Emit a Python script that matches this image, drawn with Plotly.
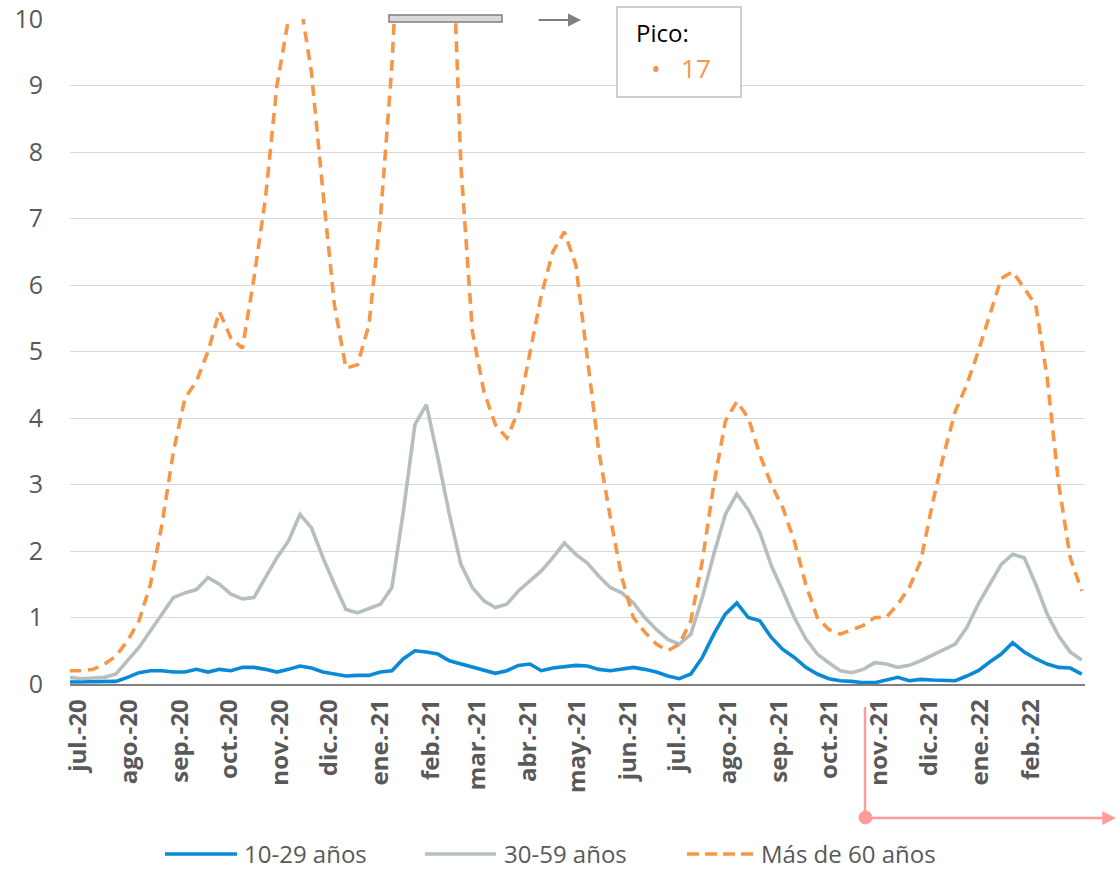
import plotly.graph_objects as go
import pandas as pd

# ---- data (weekly samples) ----
start_date = "2020-06-26"
n_points = 89

joven = [0.03, 0.03, 0.03, 0.03, 0.04, 0.10, 0.17, 0.20, 0.20, 0.18,
         0.18, 0.22, 0.18, 0.22, 0.20, 0.25, 0.25, 0.22, 0.18, 0.22,
         0.27, 0.24, 0.18, 0.15, 0.12, 0.13, 0.13, 0.18, 0.20, 0.38,
         0.50, 0.48, 0.45, 0.35, 0.30, 0.25, 0.20, 0.16, 0.20, 0.28,
         0.30, 0.20, 0.24, 0.26, 0.28, 0.27, 0.22, 0.20, 0.22, 0.25,
         0.22, 0.18, 0.12, 0.08, 0.15, 0.40, 0.75, 1.05, 1.22, 1.00,
         0.95, 0.70, 0.52, 0.40, 0.25, 0.15, 0.08, 0.05, 0.04, 0.02,
         0.02, 0.06, 0.10, 0.05, 0.07, 0.06, 0.05, 0.05, 0.12, 0.20,
         0.33, 0.45, 0.62, 0.48, 0.38, 0.30, 0.25, 0.24, 0.15]

adulto = [0.10, 0.08, 0.09, 0.10, 0.15, 0.35, 0.55, 0.80, 1.05, 1.30,
          1.37, 1.42, 1.60, 1.50, 1.35, 1.28, 1.30, 1.60, 1.90, 2.15,
          2.55, 2.35, 1.90, 1.50, 1.12, 1.07, 1.13, 1.20, 1.45, 2.60,
          3.90, 4.20, 3.40, 2.55, 1.80, 1.45, 1.25, 1.15, 1.20, 1.40,
          1.55, 1.70, 1.90, 2.12, 1.95, 1.82, 1.62, 1.45, 1.37, 1.22,
          1.00, 0.82, 0.67, 0.60, 0.75, 1.30, 1.95, 2.55, 2.86, 2.62,
          2.28, 1.78, 1.40, 1.00, 0.68, 0.45, 0.32, 0.20, 0.17, 0.22,
          0.32, 0.30, 0.25, 0.28, 0.35, 0.43, 0.52, 0.60, 0.85, 1.20,
          1.50, 1.80, 1.95, 1.90, 1.50, 1.05, 0.72, 0.48, 0.36]

mayor = [0.20, 0.20, 0.22, 0.30, 0.42, 0.65, 0.95, 1.50, 2.40, 3.50,
         4.30, 4.55, 5.00, 5.60, 5.20, 5.05, 6.10, 7.30, 9.00, 10.0,
         10.3, 9.20, 7.40, 5.70, 4.75, 4.80, 5.40, 7.00, 9.30, 13.5,
         16.2, 17.0, 15.5, 12.5, 7.80, 5.30, 4.40, 3.90, 3.70, 4.10,
         5.00, 5.85, 6.50, 6.80, 6.30, 4.90, 3.50, 2.50, 1.60, 1.00,
         0.78, 0.60, 0.50, 0.60, 0.95, 1.85, 3.00, 3.95, 4.25, 4.00,
         3.45, 3.00, 2.65, 2.15, 1.50, 1.00, 0.82, 0.75, 0.82, 0.88,
         1.00, 1.00, 1.20, 1.45, 1.85, 2.70, 3.45, 4.10, 4.50, 5.00,
         5.55, 6.10, 6.20, 5.95, 5.70, 4.60, 3.00, 1.90, 1.40]

series_names = ["10-29 años", "30-59 años", "Más de 60 años"]

month_ticks = ["2020-07-01", "2020-08-01", "2020-09-01", "2020-10-01", "2020-11-01",
               "2020-12-01", "2021-01-01", "2021-02-01", "2021-03-01", "2021-04-01",
               "2021-05-01", "2021-06-01", "2021-07-01", "2021-08-01", "2021-09-01",
               "2021-10-01", "2021-11-01", "2021-12-01", "2022-01-01", "2022-02-01"]
month_labels = ["jul.-20", "ago.-20", "sep.-20", "oct.-20", "nov.-20", "dic.-20",
                "ene.-21", "feb.-21", "mar.-21", "abr.-21", "may.-21", "jun.-21",
                "jul.-21", "ago.-21", "sep.-21", "oct.-21", "nov.-21", "dic.-21",
                "ene.-22", "feb.-22"]

peak_label = "Pico:"
peak_value = "17"

# ---- figure ----
dates = pd.date_range(start_date, periods=n_points, freq="7D")

BLUE = "#0A8AD6"
GRAY = "#B5BFC2"
ORANGE = "#F79646"
TXT = "#595959"
FONT = "Open Sans"
DASH = "11px,7px"

W, H = 1117, 869
L, R, T, B = 70, 32, 19, 185
pw, ph = W - L - R, H - T - B


def px(xp):
    return (xp - L) / pw


def py(yp):
    return (H - B - yp) / ph


colors = [BLUE, GRAY, ORANGE]
dashes = ["solid", "solid", DASH]
values = [joven, adulto, mayor]

fig = go.Figure()
for name, vals, col, dsh in zip(series_names, values, colors, dashes):
    fig.add_trace(go.Scatter(x=dates, y=vals, mode="lines", name=name,
                             line=dict(color=col, width=3.6, dash=dsh),
                             showlegend=False, hoverinfo="skip"))

fig.update_layout(
    width=W, height=H,
    margin=dict(l=L, r=R, t=T, b=B, autoexpand=False),
    paper_bgcolor="white", plot_bgcolor="white",
    font=dict(family=FONT, color=TXT),
    showlegend=False,
    xaxis=dict(type="date", range=["2020-06-26", "2022-03-06"],
               tickvals=month_ticks, ticktext=month_labels, tickangle=-90,
               tickfont=dict(size=24, color=TXT, family=FONT, weight=700),
               showgrid=False, showline=True, linecolor="#7F7F7F", linewidth=1.5,
               ticks="", zeroline=False, automargin=False, ticklabelstandoff=4),
    yaxis=dict(range=[0, 10], dtick=1, tickfont=dict(size=25, color=TXT),
               showgrid=True, gridcolor="#D9D9D9", gridwidth=1.3,
               zeroline=False, showline=False, ticks="", ticklabelstandoff=26,
               automargin=False),
)

shapes = []
# break marker at the top
shapes.append(dict(type="rect", xref="paper", yref="paper",
                   x0=px(389), x1=px(502), y0=py(22), y1=py(15),
                   fillcolor="#D9D9D9", line=dict(color="#7F7F7F", width=1.5)))
# peak box
shapes.append(dict(type="rect", xref="paper", yref="paper",
                   x0=px(617), x1=px(741), y0=py(97), y1=py(7),
                   fillcolor="white", line=dict(color="#BFBFBF", width=1.5)))
# pink marker lines
PINK = "#FF9B9B"
shapes.append(dict(type="line", xref="paper", yref="paper",
                   x0=px(865), x1=px(865), y0=py(707), y1=py(818),
                   line=dict(color=PINK, width=2.5)))
shapes.append(dict(type="circle", xref="paper", yref="paper",
                   x0=px(859), x1=px(872), y0=py(824), y1=py(811),
                   fillcolor=PINK, line=dict(color=PINK, width=1)))

# custom legend (line samples + text)
legend_y = 853
legend_line_x = [(165, 237), (425, 496), (687, 755)]
legend_text_x = [243, 503, 760]
for (x0, x1), col, dsh in zip(legend_line_x, colors, dashes):
    shapes.append(dict(type="line", xref="paper", yref="paper",
                       x0=px(x0), x1=px(x1), y0=py(legend_y + 1), y1=py(legend_y + 1),
                       line=dict(color=col, width=3.6,
                                 dash="12px,6px" if dsh != "solid" else "solid")))
fig.update_layout(shapes=shapes)

for name, tx in zip(series_names, legend_text_x):
    fig.add_annotation(xref="paper", yref="paper", x=px(tx), y=py(legend_y),
                       xanchor="left", yanchor="middle", text=name, showarrow=False,
                       borderpad=0, font=dict(size=24, color=TXT, family=FONT))

fig.add_annotation(xref="paper", yref="paper", x=px(581), y=py(20),
                   ax=-44, ay=0, axref="pixel", ayref="pixel", text="",
                   showarrow=True, arrowhead=2, arrowsize=1.3, arrowwidth=2,
                   arrowcolor="#7F7F7F")
fig.add_annotation(xref="paper", yref="paper", x=px(1116), y=py(818),
                   ax=-251, ay=0, axref="pixel", ayref="pixel", text="",
                   showarrow=True, arrowhead=2, arrowsize=1.1, arrowwidth=2.5,
                   arrowcolor=PINK)
# peak box content
fig.add_annotation(xref="paper", yref="paper", x=px(635), y=py(33),
                   xanchor="left", yanchor="middle", text=peak_label,
                   showarrow=False, borderpad=0,
                   font=dict(size=24, color="black", family=FONT))
fig.add_annotation(xref="paper", yref="paper", x=px(650), y=py(68),
                   xanchor="left", yanchor="middle",
                   text="•&nbsp;&nbsp;&nbsp;" + peak_value,
                   showarrow=False, borderpad=0,
                   font=dict(size=26, color=ORANGE, family=FONT))

fig.write_html("out.html", config={"displayModeBar": False},
               post_script="document.body.style.margin='0px';")
